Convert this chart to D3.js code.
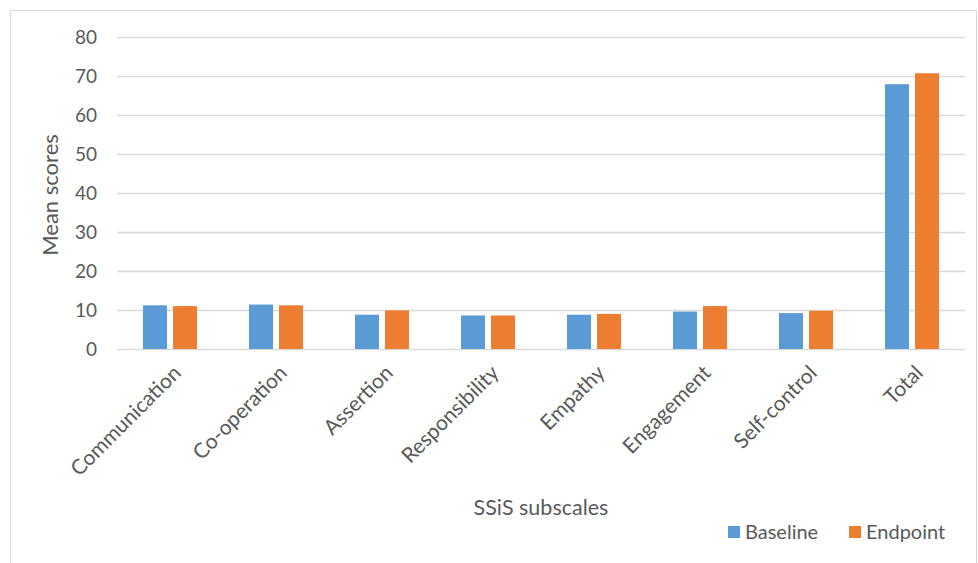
<!DOCTYPE html>
<html>
<head>
<meta charset="utf-8">
<script src="https://cdn.jsdelivr.net/npm/d3@7"></script>
<style>
  body { margin: 0; background: #fff; }
  text { font-family: Lato, "Open Sans", sans-serif; fill: #595959; }
</style>
</head>
<body>
<div id="chart"></div>
<script>
const categories = ['Communication', 'Co-operation', 'Assertion', 'Responsibility', 'Empathy', 'Engagement', 'Self-control', 'Total'];
const seriesNames = ['Baseline', 'Endpoint'];
const baseline = [11.2, 11.4, 8.8, 8.6, 8.8, 9.6, 9.2, 67.9];
const endpoint = [11.0, 11.2, 9.9, 8.6, 9.0, 11.0, 9.8, 70.7];
const yTicks = [0, 10, 20, 30, 40, 50, 60, 70, 80];

const colors = { Baseline: '#5B9BD5', Endpoint: '#ED7D31' };
const width = 978, height = 563;
const margin = { top: 37, right: 13, bottom: 214, left: 117 };

const svg = d3.select('#chart').append('svg')
    .attr('width', width)
    .attr('height', height);

// chart frame
svg.append('rect')
    .attr('x', 10.5).attr('y', 10.5)
    .attr('width', width - 12).attr('height', height)
    .attr('fill', 'none')
    .attr('stroke', '#d9d9d9');

const x0 = d3.scaleBand()
    .domain(categories)
    .range([margin.left, width - margin.right])
    .paddingInner(0.49)
    .paddingOuter(0.245);

const x1 = d3.scaleBand()
    .domain(seriesNames)
    .range([0, x0.bandwidth()])
    .paddingInner(0.2);

const y = d3.scaleLinear()
    .domain([0, 80])
    .range([height - margin.bottom, margin.top]);

// gridlines
svg.append('g')
    .selectAll('line')
    .data(yTicks)
    .join('line')
    .attr('x1', margin.left)
    .attr('x2', width - margin.right)
    .attr('y1', d => Math.round(y(d)) + 0.5)
    .attr('y2', d => Math.round(y(d)) + 0.5)
    .attr('stroke', '#d9d9d9')
    .attr('stroke-width', 1.5);

// y tick labels
svg.append('g')
    .selectAll('text')
    .data(yTicks)
    .join('text')
    .attr('x', 97)
    .attr('y', d => y(d))
    .attr('dy', '0.35em')
    .attr('text-anchor', 'end')
    .style('font-size', '19px')
    .text(d => d);

// bars
const rows = categories.map((c, i) => ({ cat: c, Baseline: baseline[i], Endpoint: endpoint[i] }));

svg.append('g')
    .selectAll('g')
    .data(rows)
    .join('g')
    .attr('transform', d => 'translate(' + x0(d.cat) + ',0)')
    .selectAll('rect')
    .data(d => seriesNames.map(s => ({ key: s, value: d[s] })))
    .join('rect')
    .attr('x', d => x1(d.key))
    .attr('y', d => y(d.value))
    .attr('width', x1.bandwidth())
    .attr('height', d => y(0) - y(d.value))
    .attr('fill', d => colors[d.key]);

// x labels, rotated
svg.append('g')
    .selectAll('text')
    .data(categories)
    .join('text')
    .attr('transform', d => 'translate(' + (x0(d) + x0.bandwidth() / 2 + 7) + ',' + (y(0) + 20) + ') rotate(-45)')
    .attr('text-anchor', 'end')
    .attr('dy', '0.35em')
    .style('font-size', '21px')
    .text(d => d);

// axis titles
svg.append('text')
    .attr('transform', 'translate(58,' + ((margin.top + y(0)) / 2 + 2) + ') rotate(-90)')
    .attr('text-anchor', 'middle')
    .style('font-size', '22px')
    .text('Mean scores');

svg.append('text')
    .attr('x', 541)
    .attr('y', 507)
    .attr('dy', '0.35em')
    .attr('text-anchor', 'middle')
    .style('font-size', '21.5px')
    .text('SSiS subscales');

// legend
const legend = svg.append('g')
    .selectAll('g')
    .data(seriesNames)
    .join('g')
    .attr('transform', (d, i) => 'translate(' + (728 + i * 121) + ',532)');

legend.append('rect')
    .attr('x', 0).attr('y', -6)
    .attr('width', 12).attr('height', 12)
    .attr('fill', d => colors[d]);

legend.append('text')
    .attr('x', 17)
    .attr('dy', '0.35em')
    .style('font-size', '20px')
    .text(d => d);
</script>
</body>
</html>
